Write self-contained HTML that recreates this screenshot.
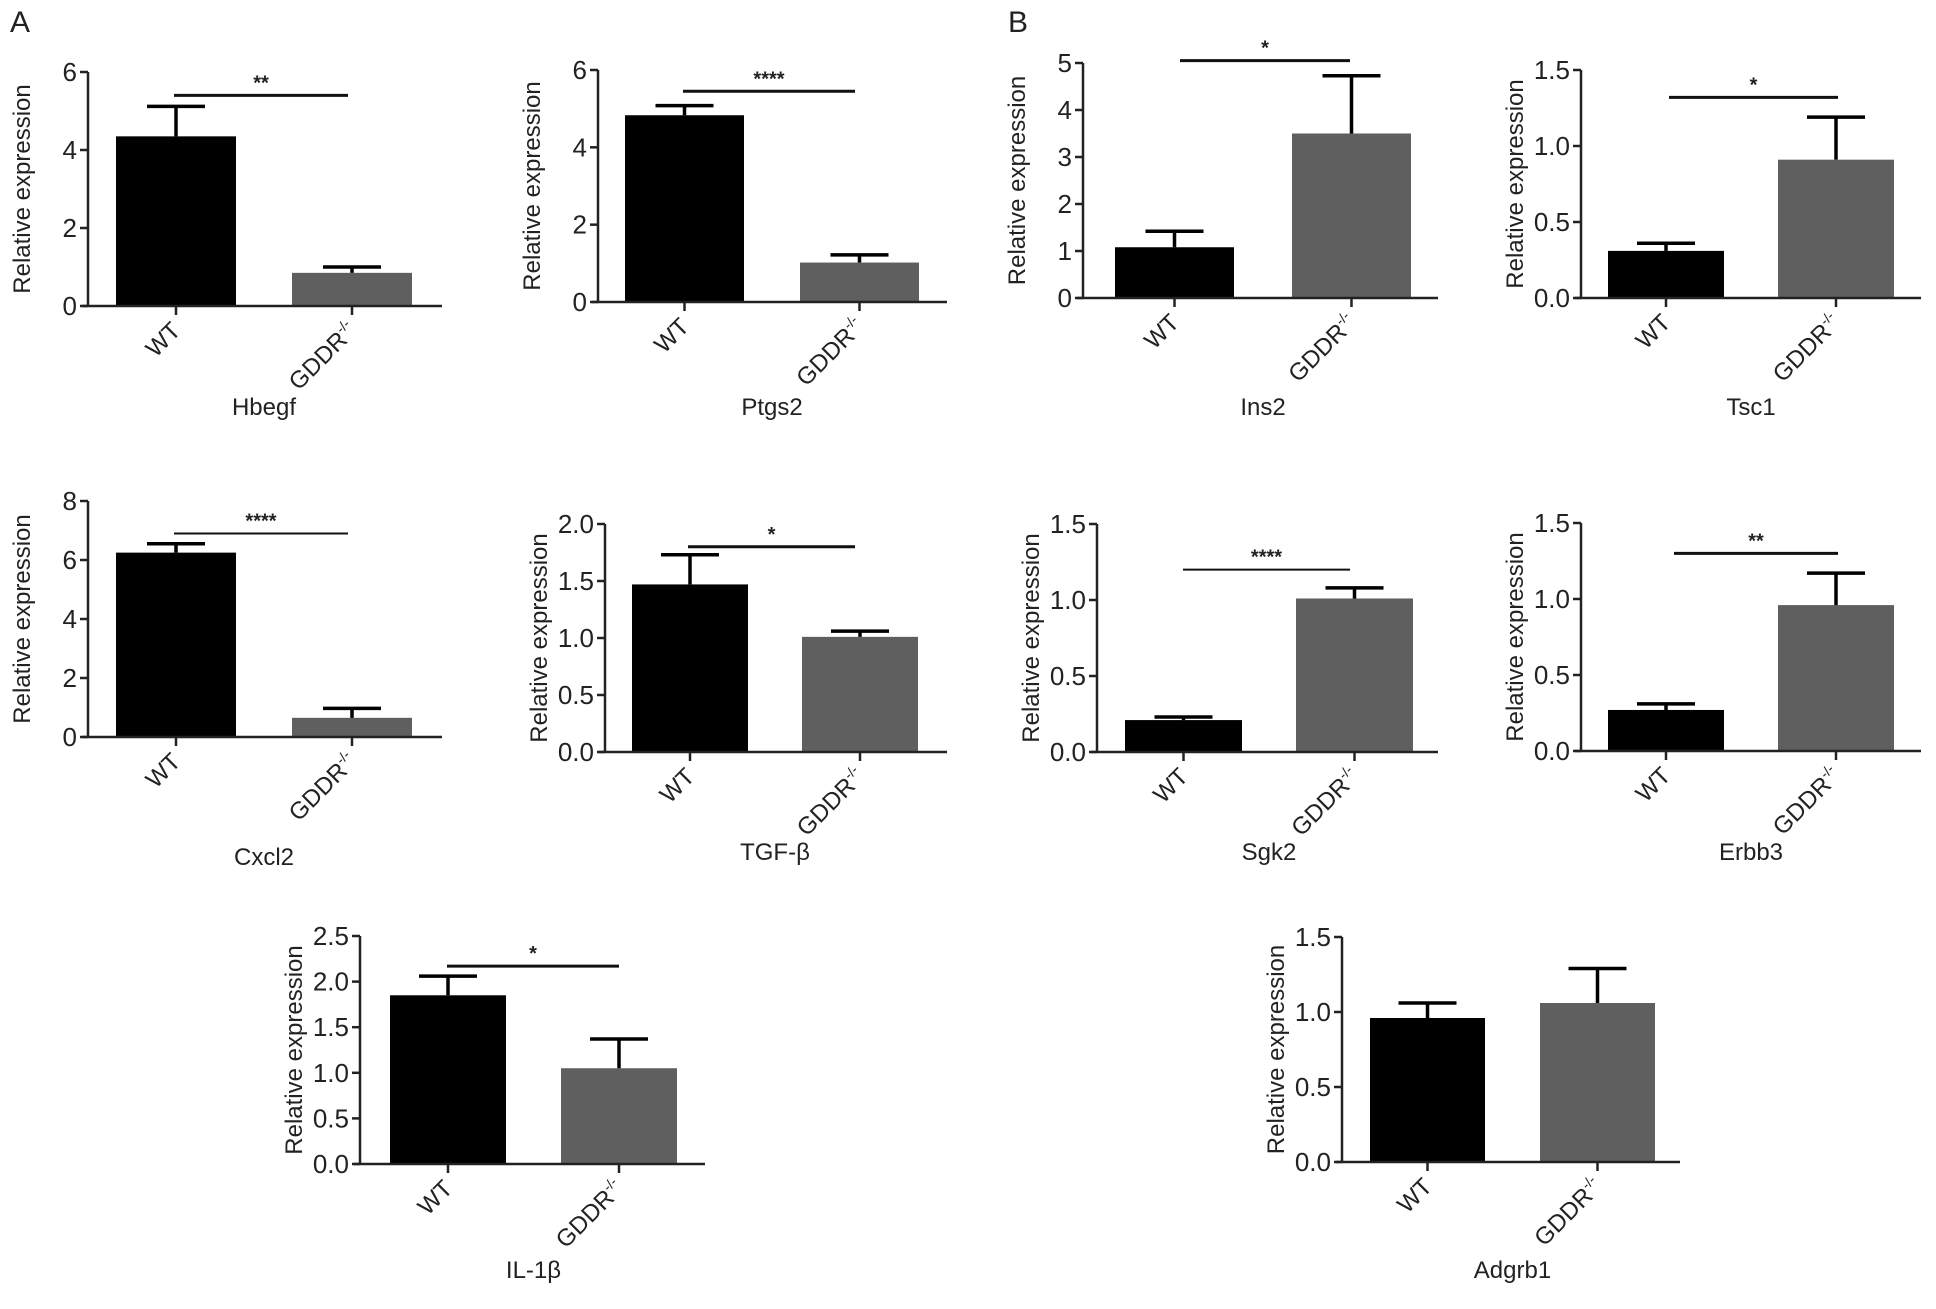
<!DOCTYPE html>
<html><head><meta charset="utf-8"><style>
html,body{margin:0;padding:0;background:#fff;}
svg text{font-family:"Liberation Sans",Arial,sans-serif;fill:#222;}
</style></head><body>
<svg id="fig" width="1936" height="1304" viewBox="0 0 1936 1304" xmlns="http://www.w3.org/2000/svg">
<text x="10" y="32" font-size="30">A</text>
<text x="1008" y="32" font-size="30">B</text>
</svg>
<script>
const genes = ["Hbegf","Ptgs2","Ins2","Tsc1","Cxcl2","TGF-β","Sgk2","Erbb3","IL-1β","Adgrb1"];
const wtValues = [4.35,4.83,1.08,0.31,6.25,1.47,0.21,0.27,1.85,0.96];
const wtErrors = [5.12,5.08,1.42,0.36,6.55,1.73,0.23,0.31,2.06,1.06];
const koValues = [0.85,1.02,3.5,0.91,0.65,1.01,1.01,0.96,1.05,1.06];
const koErrors = [1.0,1.22,4.73,1.19,0.97,1.06,1.08,1.17,1.37,1.29];
const yMax = [6,6,5,1.5,8,2,1.5,1.5,2.5,1.5];
const yStep = [2,2,1,0.5,2,0.5,0.5,0.5,0.5,0.5];
const sigLabels = ["**","****","*","*","****","*","****","**","*",""];
const sigLevel = [5.4,5.45,5.05,1.32,6.9,1.8,1.2,1.3,2.17,0];

// layout (pixels)
const L = [
 {ax:88, y0:306, yT:72, b1:116,b2:292,w:120,xe:442,s1:174,s2:348,sw:3},
 {ax:598,y0:302, yT:70, b1:625,b2:800,w:119,xe:947,s1:683,s2:855,sw:3},
 {ax:1083,y0:298,yT:63, b1:1115,b2:1292,w:119,xe:1438,s1:1180,s2:1350,sw:3},
 {ax:1581,y0:298,yT:70, b1:1608,b2:1778,w:116,xe:1921,s1:1669,s2:1838,sw:3},
 {ax:88, y0:737, yT:501,b1:116,b2:292,w:120,xe:442,s1:174,s2:348,sw:2},
 {ax:605,y0:752, yT:524,b1:632,b2:802,w:116,xe:947,s1:688,s2:855,sw:3},
 {ax:1097,y0:752,yT:524,b1:1125,b2:1296,w:117,xe:1438,s1:1183,s2:1350,sw:2},
 {ax:1581,y0:751,yT:523,b1:1608,b2:1778,w:116,xe:1921,s1:1674,s2:1838,sw:3},
 {ax:360,y0:1164,yT:936,b1:390,b2:561,w:116,xe:705,s1:447,s2:619,sw:3},
 {ax:1342,y0:1162,yT:937,b1:1370,b2:1540,w:115,xe:1680,s1:0,s2:0,sw:3}
];
const titleY = [415,415,415,415,865,860,860,860,1278,1278];
const NS="http://www.w3.org/2000/svg";
const svg=document.getElementById('fig');
function mk(tag,attrs,parent){const e=document.createElementNS(NS,tag);for(const k in attrs)e.setAttribute(k,attrs[k]);(parent||svg).appendChild(e);return e;}

genes.forEach((g,i)=>{
  const p=L[i];
  const grp=mk('g',{});
  
  
  const y=v=>p.y0-(v/yMax[i])*(p.y0-p.yT);
  const fmt=v=>yStep[i]<1?v.toFixed(1):String(v);
  // bars
  [[wtValues[i],wtErrors[i],p.b1,'#000','wt'],[koValues[i],koErrors[i],p.b2,'#5f5f5f','gddr']].forEach(([v,e,x,c,n])=>{
    const cx=x+p.w/2;
    const r=mk('rect',{x:x,y:y(v),width:p.w,height:p.y0-y(v),fill:c},grp);
    
    
    const eb=mk('path',{d:`M${cx},${y(v)}V${y(e)}M${cx-29},${y(e)}H${cx+29}`,stroke:'#000','stroke-width':3.5,fill:'none'},grp);
    
    
    mk('line',{x1:cx,x2:cx,y1:p.y0,y2:p.y0+9,stroke:'#222','stroke-width':2.5},grp);
  });
  // axes
  const ya=mk('line',{x1:p.ax,x2:p.ax,y1:p.yT,y2:p.y0,stroke:'#222','stroke-width':2.5},grp);
  
  
  const xa=mk('line',{x1:p.ax-6,x2:p.xe,y1:p.y0,y2:p.y0,stroke:'#222','stroke-width':2.5},grp);
  
  
  for(let t=0;t<=yMax[i]+1e-9;t+=yStep[i]){
    mk('line',{x1:p.ax-8,x2:p.ax,y1:y(t),y2:y(t),stroke:'#222','stroke-width':2.5},grp);
    const tl=mk('text',{x:p.ax-11,y:y(t)+9,'font-size':26,'text-anchor':'end'},grp);
    tl.textContent=fmt(t);
    
    
  }
  const yt=mk('text',{transform:`translate(${p.ax-58},${(p.y0+p.yT)/2}) rotate(-90)`,'font-size':24,'text-anchor':'middle'},grp);
  yt.textContent='Relative expression';
  
  
  // category labels
  const c1=p.b1+p.w/2, c2=p.b2+p.w/2;
  const wl=mk('text',{transform:`translate(${c1+6},${p.y0+26}) rotate(-45)`,'font-size':24,'text-anchor':'end'},grp);
  wl.textContent='WT';
  
  
  const gl=mk('text',{transform:`translate(${c2+6},${p.y0+26}) rotate(-45)`,'font-size':24,'text-anchor':'end'},grp);
  gl.innerHTML='GDDR<tspan font-size="14" dy="-10">-/-</tspan>';
  
  
  const tt=mk('text',{x:(c1+c2)/2,y:titleY[i],'font-size':24,'text-anchor':'middle'},grp);
  tt.textContent=g;
  
  
  if(sigLabels[i]){
    const sy=y(sigLevel[i]);
    const sl=mk('line',{x1:p.s1,x2:p.s2,y1:sy,y2:sy,stroke:'#111','stroke-width':p.sw},grp);
    
    
    const st=mk('text',{x:(p.s1+p.s2)/2,y:sy-6,'font-size':20,'font-weight':'bold','text-anchor':'middle'},grp);
    st.textContent=sigLabels[i];
    
    
  }
});
</script>
</body></html>
